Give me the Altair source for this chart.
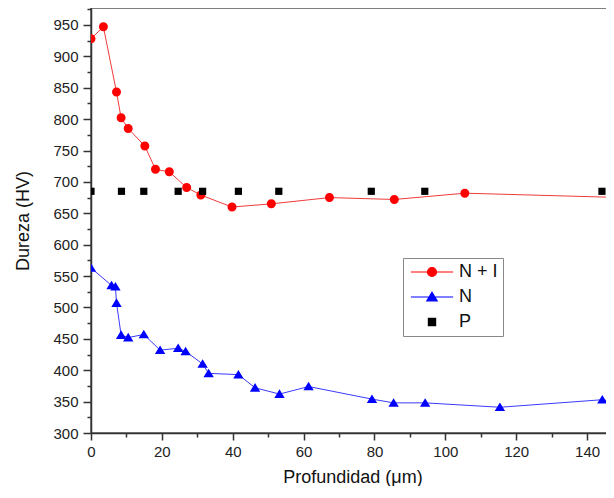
import altair as alt
import pandas as pd

# ---- data ----
ni_x = [0, 3.5, 7.2, 8.5, 10.5, 15.2, 18.2, 22.1, 27.0, 31.0, 39.8, 50.9, 67.3, 85.6, 105.5, 150]
ni_y = [928, 947, 843, 802, 785, 757, 720, 716, 691, 679, 660, 665, 675, 672, 682, 675]

n_x = [0, 5.8, 6.9, 7.2, 8.5, 10.5, 14.9, 19.5, 24.6, 26.7, 31.5, 33.2, 41.6, 46.3, 53.2,
       61.4, 79.3, 85.4, 94.3, 115.4, 144.3, 150]
n_y = [563, 535, 533, 507, 456, 452, 457, 432, 435, 430, 410, 395, 393, 372, 362,
       374, 354, 348, 348, 341, 353, 347]

p_x = [0, 8.6, 14.9, 24.6, 31.5, 41.6, 53.0, 79.1, 94.2, 144.2]
p_y = [685] * len(p_x)

series_names = ["N + I", "N", "P"]
series_colors = ["#ff0000", "#0000ff", "#000000"]
line_names = ["N + I", "N"]
line_colors = ["#f03a3a", "#3a3aff"]

x_ticks = list(range(0, 150, 10))
y_ticks = list(range(300, 976, 25))

rows = []
for name, xs, ys in zip(series_names, [ni_x, n_x, p_x], [ni_y, n_y, p_y]):
    for xv, yv in zip(xs, ys):
        rows.append({"series": name, "x": xv, "y": yv})
df = pd.DataFrame(rows)

# symbol paths (unit box ~[-1,1]); the horizontal line only shows in the legend (stroked there)
shape_paths = [
    "M-4.7,0H4.7M-1,0A1,1 0 1,1 1,0A1,1 0 1,1 -1,0Z",
    "M-4.7,0H4.7M0,-1.05L1.15,0.85L-1.15,0.85Z",
    "M-0.8,-0.8H0.8V0.8H-0.8Z",
]

x_scale = alt.Scale(domain=[0, 147.6], nice=False, zero=False)
y_scale = alt.Scale(domain=[300, 977], nice=False, zero=False)

x_axis = alt.Axis(
    values=x_ticks, grid=False, title="Profundidad (\u03bcm)",
    labelExpr="datum.value % 20 == 0 ? datum.label : ''",
    tickSize={"condition": {"test": "datum.value % 20 != 0", "value": 4}, "value": 7},
    labelFlush=False, labelOverlap=False, labelPadding=4, titlePadding=9,
)
y_axis = alt.Axis(
    values=y_ticks, grid=False, title="Dureza (HV)",
    labelExpr="datum.value % 50 == 0 ? datum.label : ''",
    tickSize={"condition": {"test": "datum.value % 50 != 0", "value": 4}, "value": 8},
    labelOverlap=False, labelPadding=5, titlePadding=20,
)

legend = alt.Legend(title=None, orient="none", legendX=312, legendY=250)

base = alt.Chart(df)

lines = base.transform_filter("datum.series != 'P'").mark_line(strokeWidth=1, clip=True).encode(
    x=alt.X("x:Q", scale=x_scale, axis=x_axis),
    y=alt.Y("y:Q", scale=y_scale, axis=y_axis),
    color=alt.Color("series:N", scale=alt.Scale(domain=line_names, range=line_colors), legend=None),
    detail="series:N",
)

points = base.mark_point(filled=True, clip=True, opacity=1).encode(
    x=alt.X("x:Q", scale=x_scale, axis=x_axis),
    y=alt.Y("y:Q", scale=y_scale, axis=y_axis),
    fill=alt.Fill("series:N", scale=alt.Scale(domain=series_names, range=series_colors), legend=legend),
    stroke=alt.Stroke("series:N", scale=alt.Scale(domain=series_names, range=series_colors), legend=legend),
    shape=alt.Shape("series:N", scale=alt.Scale(domain=series_names, range=shape_paths), legend=legend),
    size=alt.value(81),
    strokeWidth=alt.value(0),
)

chart = alt.layer(lines, points).properties(
    width=523, height=425,
    autosize=alt.AutoSizeParams(type="none"),
    padding={"left": 83, "top": 0, "right": -8, "bottom": 53},
).configure_view(
    stroke="#555555", strokeWidth=1.5,
).configure_axis(
    domainColor="#333333", domainWidth=1.5, tickColor="#333333", tickWidth=1.5,
    labelFont="Liberation Sans", labelFontSize=15, labelColor="#222222",
    titleFont="Liberation Sans", titleFontSize=18, titleFontWeight="normal", titleColor="#111111",
).configure_legend(
    strokeColor="#888888", padding=5, fillColor="white",
    labelFont="Liberation Sans", labelFontSize=18, labelColor="#111111",
    symbolSize=81, symbolStrokeWidth=1.2, symbolOffset=15, labelOffset=18, rowPadding=7,
)

chart.save("out.html", embed_options={"renderer": "svg", "actions": False})
